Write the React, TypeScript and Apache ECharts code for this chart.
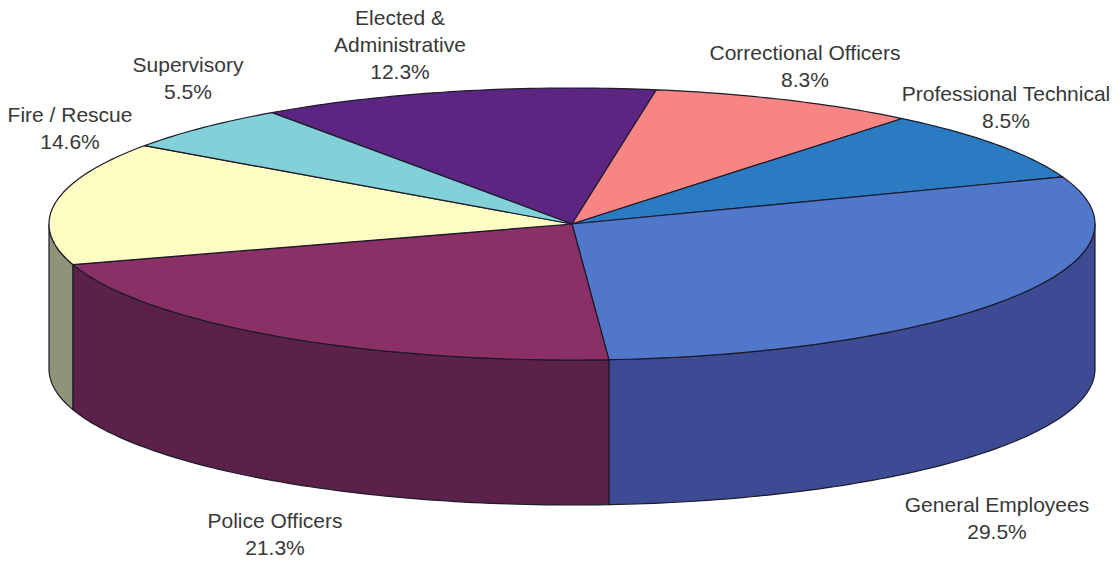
import React, { useEffect, useRef } from 'react';
import * as echarts from 'echarts';

// ---- data ----
const categories: string[] = [
  'Elected &\nAdministrative',
  'Correctional Officers',
  'Professional Technical',
  'General Employees',
  'Police Officers',
  'Fire / Rescue',
  'Supervisory',
];
const shares: number[] = [12.3, 8.3, 8.5, 29.5, 21.3, 14.6, 5.5];

// ---- styles / layout ----
const topColors = ['#5b2581', '#f78583', '#2b7bc2', '#5077c9', '#8b3066', '#fdfcc2', '#82d0d8'];
const sideColors = ['#3e1a5a', '#b85f5e', '#1f5a8e', '#3d4b94', '#5b2148', '#8f9377', '#5b9aa1'];
const labelAnchors: [number, number][] = [
  [400, 44],
  [805, 66],
  [1006, 107],
  [997, 518],
  [275, 534],
  [70, 128],
  [188, 78],
];
const START = 125;
const CX = 572;
const CY = 224;
const RX = 523;
const RY = 136;
const DEPTH = 145;
const OUTLINE = '#1c1a2a';

export default function App() {
  const ref = useRef<HTMLDivElement>(null);
  useEffect(() => {
    document.body.style.margin = '0';
    if (!ref.current) return;
    const chart = echarts.init(ref.current, undefined, { renderer: 'svg' });
    const total = shares.reduce((a, b) => a + b, 0);
    const pt = (deg: number, dy = 0): number[] => {
      const r = (deg * Math.PI) / 180;
      return [CX + RX * Math.cos(r), CY - RY * Math.sin(r) + dy];
    };
    const arc = (from: number, to: number, dy: number): number[][] => {
      const n = Math.max(2, Math.ceil(Math.abs(to - from)));
      const out: number[][] = [];
      for (let k = 0; k <= n; k++) out.push(pt(from + ((to - from) * k) / n, dy));
      return out;
    };
    chart.setOption({
      animation: false,
      backgroundColor: '#ffffff',
      series: [
        {
          type: 'custom',
          coordinateSystem: 'none',
          silent: true,
          data: shares.map((v) => [v]),
          renderItem: (params: any, api: any) => {
            const i = params.dataIndex;
            const before = shares.slice(0, i).reduce((a, b) => a + b, 0);
            const v = api.value(0);
            const a0 = START - (before / total) * 360;
            const a1 = a0 - (v / total) * 360;
            const children: any[] = [];
            for (const k of [-2, -1, 0, 1]) {
              const lo = Math.max(a1, -180 + 360 * k);
              const hi = Math.min(a0, 360 * k);
              if (hi > lo) {
                const pts = [...arc(lo, hi, 0), ...arc(hi, lo, DEPTH)];
                children.push({
                  type: 'polygon',
                  shape: { points: pts },
                  style: { fill: sideColors[i], stroke: OUTLINE, lineWidth: 1.2, lineJoin: 'round' },
                });
              }
            }
            children.push({
              type: 'polygon',
              shape: { points: [[CX, CY], ...arc(a0, a1, 0)] },
              style: { fill: topColors[i], stroke: OUTLINE, lineWidth: 1.2, lineJoin: 'round' },
            });
            const [lx, ly] = labelAnchors[i];
            children.push({
              type: 'text',
              style: {
                text: `${categories[i]}\n${v}%`,
                x: lx,
                y: ly,
                align: 'center',
                verticalAlign: 'middle',
                fill: '#383838',
                fontFamily: 'Liberation Sans, Arial, sans-serif',
                fontSize: 21,
                lineHeight: 27,
              },
            });
            return { type: 'group', children };
          },
        },
      ],
    });
    return () => chart.dispose();
  }, []);
  return <div ref={ref} style={{ width: 1120, height: 561 }} />;
}
